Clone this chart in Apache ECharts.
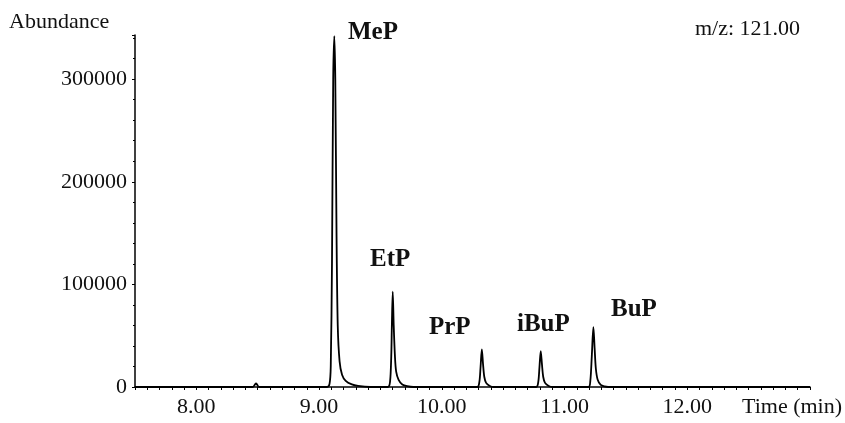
<!DOCTYPE html>
<html>
<head>
<meta charset="utf-8">
<script src="https://cdn.jsdelivr.net/npm/echarts@6/dist/echarts.min.js"></script>
<style>
  html, body { margin: 0; padding: 0; background: #fff; }
  #main { width: 845px; height: 423px; }
</style>
</head>
<body>
<div id="main"></div>
<script>
// retention time (min) and abundance
var times = [
  7.50, 8.46, 8.478, 8.486, 8.494, 8.51,
  9.065, 9.085, 9.095, 9.105, 9.115, 9.124, 9.132, 9.142, 9.152, 9.167, 9.187, 9.217, 9.267, 9.317, 9.417,
  9.56, 9.578, 9.588, 9.593, 9.600, 9.608, 9.618, 9.628, 9.648, 9.678, 9.718, 9.768,
  10.29, 10.306, 10.316, 10.326, 10.336, 10.346, 10.361, 10.391, 10.421,
  10.77, 10.786, 10.796, 10.806, 10.816, 10.826, 10.841, 10.871, 10.901,
  11.195, 11.21, 11.222, 11.235, 11.245, 11.255, 11.27, 11.295, 11.325, 11.355,
  13.00
];
var abundance = [
  0, 0, 2500, 3500, 2500, 0,
  0, 3000, 20000, 120000, 300000, 342000, 300000, 150000, 60000, 25000, 12000, 6000, 2500, 1000, 0,
  0, 5000, 30000, 60000, 92900, 60000, 30000, 15000, 7000, 2500, 800, 0,
  0, 5000, 20000, 36700, 22000, 10000, 4000, 1000, 0,
  0, 5000, 20000, 35000, 22000, 10000, 4000, 1000, 0,
  0, 6000, 30000, 58200, 38000, 18000, 7000, 2000, 500, 0,
  0
];
var peakNames = ["MeP", "EtP", "PrP", "iBuP", "BuP"];
var yTicks = [0, 100000, 200000, 300000];

var serif = "'Liberation Serif', 'Times New Roman', serif";
var myChart = echarts.init(document.getElementById("main"));

var trace = times.map(function (t, i) { return [t, abundance[i]]; });

// label positions (pixels, left / vertical centre) for each peak name
var labelPos = [[348, 33], [370, 260], [429, 328], [517, 325], [611, 310]];

var option = {
  animation: false,
  grid: { left: 135, right: 35, top: 35, bottom: 36 },
  xAxis: {
    type: "value",
    min: 7.5,
    max: 13.0,
    interval: 0.5,
    axisLine: { lineStyle: { color: "#000", width: 1.5 } },
    axisTick: { show: true, length: 3, lineStyle: { color: "#000" } },
    minorTick: { show: true, splitNumber: 5, length: 3, lineStyle: { color: "#000" } },
    splitLine: { show: false },
    axisLabel: {
      color: "#111",
      fontFamily: serif,
      fontSize: 22,
      margin: 9,
      formatter: function (v) {
        return Math.abs(v - Math.round(v)) < 1e-6 && v < 12.5 ? v.toFixed(2) : "";
      }
    }
  },
  yAxis: {
    type: "value",
    min: 0,
    max: 343000,
    interval: yTicks[1] - yTicks[0],
    axisLine: { show: true, lineStyle: { color: "#000", width: 1.5 } },
    axisTick: { show: true, length: 3, lineStyle: { color: "#000" } },
    minorTick: { show: true, splitNumber: 5, length: 2, lineStyle: { color: "#000" } },
    splitLine: { show: false },
    axisLabel: {
      color: "#111",
      fontFamily: serif,
      fontSize: 22,
      margin: 8,
      showMaxLabel: false,
      formatter: function (v) { return String(v); }
    }
  },
  graphic: [
    { type: "text", left: 9, top: 11, style: { text: "Abundance", font: "22px " + serif, fill: "#111" } },
    { type: "text", left: 695, top: 18, style: { text: "m/z: 121.00", font: "22px " + serif, fill: "#111" } },
    { type: "text", left: 742, top: 396, style: { text: "Time (min)", font: "22px " + serif, fill: "#111" } }
  ].concat(peakNames.map(function (n, i) {
    return {
      type: "text",
      left: labelPos[i][0],
      top: labelPos[i][1] - 13,
      style: { text: n, font: "bold 25px " + serif, fill: "#111" }
    };
  })),
  series: [
    {
      type: "line",
      data: trace,
      showSymbol: false,
      smooth: 0.3,
      lineStyle: { color: "#000", width: 1.8 }
    }
  ]
};

myChart.setOption(option);
</script>
</body>
</html>
